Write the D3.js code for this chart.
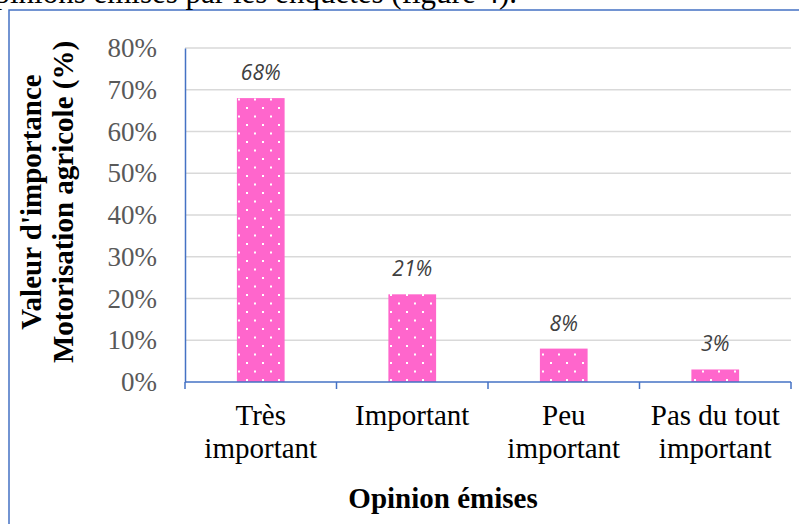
<!DOCTYPE html>
<html>
<head>
<meta charset="utf-8">
<script src="https://cdn.jsdelivr.net/npm/d3@7"></script>
<style>
  html, body { margin: 0; padding: 0; background: #fff; }
  svg { display: block; }
</style>
</head>
<body>
<svg id="chart" width="799" height="524"></svg>
<script>
// Survey answers: importance of agricultural motorisation
const categories = ["Très important", "Important", "Peu important", "Pas du tout important"];
const categoryLines = [["Très", "important"], ["Important"], ["Peu", "important"], ["Pas du tout", "important"]];
const values = [0.68, 0.21, 0.08, 0.03];
const yTicks = [0, 0.1, 0.2, 0.3, 0.4, 0.5, 0.6, 0.7, 0.8];

const svg = d3.select("#chart");
const serif = "'Liberation Serif', 'Times New Roman', serif";
const blue = "#4472C4";
const pink = "#FF66CC";

const plot = { left: 185, right: 791, top: 48, bottom: 382 };

// Frame around the figure (open on the right and bottom edges of the page)
svg.append("rect")
  .attr("x", 9).attr("y", 10)
  .attr("width", 820).attr("height", 540)
  .attr("fill", "none").attr("stroke", blue).attr("stroke-width", 1.5);

// Tail of the paragraph sentence sitting above the figure
svg.append("text")
  .attr("x", 517).attr("y", 3)
  .attr("text-anchor", "end")
  .attr("font-family", serif).attr("font-size", 31).attr("fill", "#000")
  .text("opinions émises par les enquêtés (figure 4).");

// Dotted fill for the bars
const defs = svg.append("defs");
const pat = defs.append("pattern")
  .attr("id", "dots").attr("patternUnits", "userSpaceOnUse")
  .attr("x", 5).attr("y", 4)
  .attr("width", 16).attr("height", 17);
pat.append("rect").attr("width", 16).attr("height", 17).attr("fill", pink);
pat.append("rect").attr("x", 1).attr("y", 1).attr("width", 2).attr("height", 2).attr("fill", "#fff");
pat.append("rect").attr("x", 9).attr("y", 9.5).attr("width", 2).attr("height", 2).attr("fill", "#fff");

const x = d3.scaleBand().domain(categories).range([plot.left, plot.right]).padding(0);
const y = d3.scaleLinear().domain([0, 0.8]).range([plot.bottom, plot.top]);
const barW = x.bandwidth() * 0.315;

// Horizontal gridlines
svg.append("g")
  .selectAll("line")
  .data(yTicks.filter(d => d > 0))
  .join("line")
  .attr("x1", plot.left).attr("x2", plot.right)
  .attr("y1", d => y(d)).attr("y2", d => y(d))
  .attr("stroke", "#d9d9d9").attr("stroke-width", 1.5);

// Y axis: labels only, plus a blue spine
const yAxis = svg.append("g")
  .attr("transform", `translate(${plot.left},0)`)
  .call(d3.axisLeft(y).tickValues(yTicks).tickFormat(d3.format(".0%")).tickSize(0).tickPadding(28));
yAxis.select(".domain").attr("stroke", blue).attr("stroke-width", 1.5);
yAxis.selectAll("text")
  .attr("font-family", serif).attr("font-size", 27).attr("fill", "#595959");

// Bars
svg.append("g")
  .selectAll("rect")
  .data(values)
  .join("rect")
  .attr("x", (d, i) => x(categories[i]) + (x.bandwidth() - barW) / 2)
  .attr("y", d => y(d))
  .attr("width", barW)
  .attr("height", d => y(0) - y(d))
  .attr("fill", "url(#dots)");

// Value labels
svg.append("g")
  .selectAll("text")
  .data(values)
  .join("text")
  .attr("x", (d, i) => x(categories[i]) + x.bandwidth() / 2)
  .attr("y", d => y(d) - 18)
  .attr("text-anchor", "middle")
  .attr("font-family", "'Open Sans', sans-serif")
  .attr("font-style", "italic")
  .attr("font-size", 21)
  .attr("fill", "#404040")
  .text(d => d3.format(".0%")(d));

// X axis line with ticks between categories
const xAxis = svg.append("g");
xAxis.append("line")
  .attr("x1", plot.left).attr("x2", plot.right)
  .attr("y1", y(0)).attr("y2", y(0))
  .attr("stroke", blue).attr("stroke-width", 1.5);
const bounds = categories.map(c => x(c)).concat([plot.right]);
xAxis.selectAll(".tick")
  .data(bounds)
  .join("line")
  .attr("class", "tick")
  .attr("x1", d => d).attr("x2", d => d)
  .attr("y1", y(0)).attr("y2", y(0) + 7)
  .attr("stroke", blue).attr("stroke-width", 1.5);

// Category labels (wrapped)
const catG = svg.append("g");
categories.forEach((c, i) => {
  const t = catG.append("text")
    .attr("x", x(c) + x.bandwidth() / 2)
    .attr("y", 425)
    .attr("text-anchor", "middle")
    .attr("font-family", serif).attr("font-size", 29).attr("fill", "#000");
  categoryLines[i].forEach((line, j) => {
    t.append("tspan")
      .attr("x", x(c) + x.bandwidth() / 2)
      .attr("dy", j === 0 ? 0 : 33)
      .text(line);
  });
});

// Axis titles
svg.append("text")
  .attr("x", 443).attr("y", 508)
  .attr("text-anchor", "middle")
  .attr("font-family", serif).attr("font-size", 29).attr("font-weight", "bold")
  .text("Opinion émises");

const yTitle = svg.append("text")
  .attr("transform", "translate(0,202) rotate(-90)")
  .attr("text-anchor", "middle")
  .attr("font-family", serif).attr("font-size", 29).attr("font-weight", "bold");
yTitle.append("tspan").attr("x", 0).attr("y", 41).text("Valeur d'importance");
yTitle.append("tspan").attr("x", 0).attr("y", 73).text("Motorisation agricole (%)");
</script>
</body>
</html>
